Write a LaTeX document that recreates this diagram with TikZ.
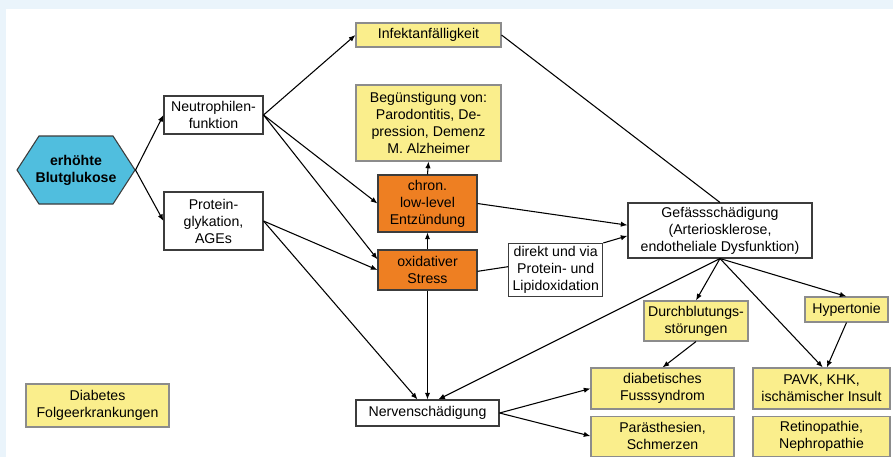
\documentclass[tikz,border=0pt]{standalone}
\usepackage{fontspec}
\setmainfont{Liberation Sans}
\usetikzlibrary{positioning,arrows.meta}
\definecolor{hellblau}{RGB}{234,244,251}
\definecolor{gelb}{RGB}{250,238,140}
\definecolor{orangebox}{RGB}{238,127,34}
\definecolor{hexblau}{RGB}{80,190,222}
\definecolor{rahmen}{RGB}{60,60,60}
\definecolor{grau}{RGB}{140,140,140}

\begin{document}
\begin{tikzpicture}[x=0.75pt, y=-0.75pt, line width=0.8pt, >={Latex[length=5pt,width=4pt]},
    font=\fontsize{10.6}{12.75}\selectfont,
    box/.style = {draw=rahmen, fill=white, align=center, inner sep=1pt},
    gelbbox/.style = {box, draw=grau, fill=gelb},
    orabox/.style = {box, fill=orangebox},
    sz/.style 2 args = {minimum width=#1*0.75pt, minimum height=#2*0.75pt}]
		\fill[hellblau] (0,0) rectangle (893,457);
		\fill[white] (6,9) rectangle (893,457);
		\useasboundingbox (0,0) rectangle (893,457);
		
		\filldraw[draw=rahmen, fill=hexblau] (17,170) -- (39,136) -- (113,136) -- (135,170) -- (113,204) -- (39,204) -- cycle;
		\node[sz={118}{68}, align=center, font=\fontsize{10.6}{12.75}\selectfont\bfseries] (blut) at (76,170) {erhöhte\\Blutglukose};
		\node[box, sz={99}{38}] (neutro) at (213.5,115) {Neutrophilen-\\funktion};
		\node[box, sz={99}{58}] (protein) at (213.5,221) {Protein-\\glykation,\\AGEs};
		\node[gelbbox, sz={145}{24}] (infekt) at (428.5,35) {Infektanfälligkeit};
		\node[gelbbox, sz={145}{76}] (beguen) at (428.5,123) {Begünstigung von:\\Parodontitis, De-\\pression, Demenz\\M. Alzheimer};
		\node[orabox, sz={99}{57}] (chron) at (427.5,203.5) {chron.\\low-level\\Entzündung};
		\node[orabox, sz={99}{40}] (oxid) at (427.5,270) {oxidativer\\Stress};
		\node[box, sz={94}{53}] (direkt) [right=23pt of oxid] {direkt und via\\Protein- und\\Lipidoxidation};
		\node[box, sz={184}{55}] (gef) at (720,230.5) {Gefässschädigung\\(Arteriosklerose,\\endotheliale Dysfunktion)};
		\node[gelbbox, sz={104}{40}] (durch) at (696,321) {Durchblutungs-\\störungen};
		\node[gelbbox, sz={83}{25}] (hyper) at (846.5,309.5) {Hypertonie};
		\node[gelbbox, sz={143}{41}] (fuss) at (662.5,388.5) {diabetisches\\Fusssyndrom};
		\node[gelbbox, sz={143}{40}] (paraes) [below=4.5pt of fuss] {Parästhesien,\\Schmerzen};
		\node[gelbbox, sz={137}{41}] (pavk) at (821.5,388.5) {PAVK, KHK,\\ischämischer Insult};
		\node[gelbbox, sz={137}{40}] (retino) [below=4.5pt of pavk] {Retinopathie,\\Nephropathie};
		\node[box, sz={143}{26}] (nerven) at (427.5,413) {Nervenschädigung};
		\node[gelbbox, sz={143}{43}] (folge) at (97.5,405.5) {Diabetes\\Folgeerkrankungen};
		
		\draw[->] (blut.east) -- (neutro.west);
		\draw[->] (blut.east) -- (protein.west);
		\draw[->] (neutro.east) -- (infekt.west);
		\draw[->] (neutro.east) -- (chron.west);
		\draw[->] (neutro.east) -- ([yshift=8pt]oxid.west);
		\draw[->] (protein.east) -- (oxid.west);
		\draw[->] (protein.east) -- ([xshift=-7.5pt]nerven.north);
		\draw[->] (chron.north) -- (beguen.south);
		\draw[->] (oxid.north) -- (chron.south);
		\draw[->] (oxid.south) -- (nerven.north);
		\draw (infekt.east) -- (gef.north);
		\draw[->] (chron.east) -- ([yshift=4pt]gef.west);
		\draw ([yshift=-1pt]oxid.east) -- ([yshift=2.5pt]direkt.west);
		\draw[->] (direkt.north east) -- ([yshift=-4pt]gef.west);
		\draw[->] (gef.south) -- ([xshift=8pt]nerven.north);
		\draw[->] (gef.south) -- (durch.north);
		\draw[->] (gef.south) -- ([xshift=1pt]pavk.north);
		\draw[->] (gef.south) -- (hyper.north);
		\draw[->] (hyper.south) -- ([xshift=4pt]pavk.north);
		\draw[->] (durch.south) -- (fuss.north);
		\draw[->] (nerven.east) -- (fuss.west);
		\draw[->] (nerven.east) -- (paraes.west);
	\end{tikzpicture}
\end{document}
